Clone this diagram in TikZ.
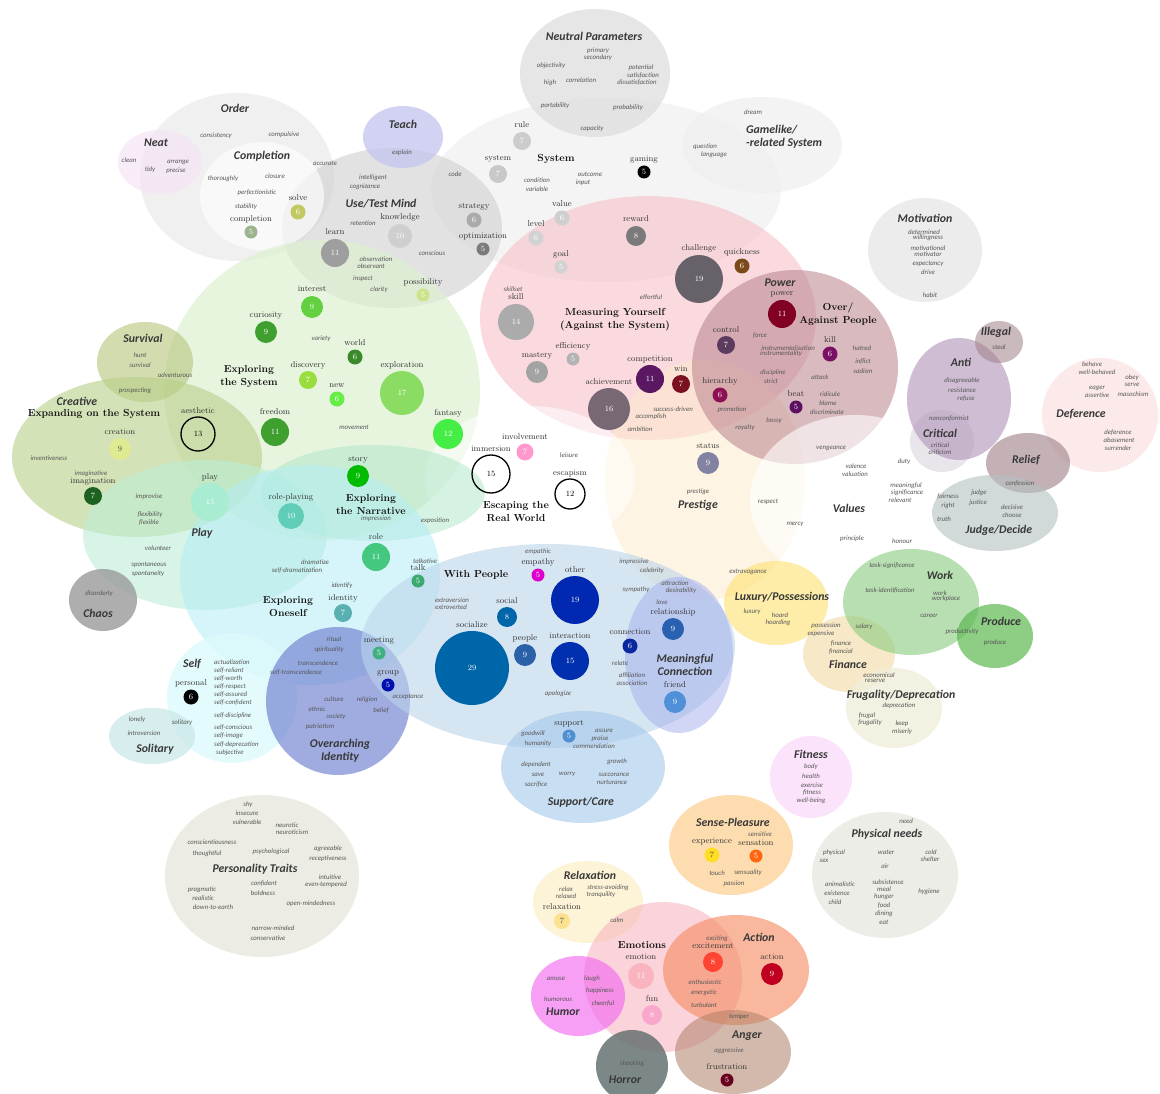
\documentclass[tikz,border=0pt]{standalone}
\usepackage{fontspec}
\setsansfont{Carlito}
\begin{document}
\begin{tikzpicture}[x=1pt,y=-1pt,
 kw/.style={font=\sffamily\itshape\fontsize{6.8}{7}\selectfont, text=black!66, inner sep=0pt},
 cat/.style={font=\sffamily\bfseries\itshape\fontsize{11.8}{13}\selectfont, text=black!78, inner sep=0pt, align=center},
 ser/.style={font=\bfseries\fontsize{10.2}{13}\selectfont, text=black!92, inner sep=0pt, align=center},
 lab/.style={font=\fontsize{8.5}{9}\selectfont, text=black!80, inner sep=0pt},
 num/.style={font=\fontsize{8}{9}\selectfont, text=white, inner sep=0pt}]
\newcommand{\Ell}[6]{\definecolor{tmpe}{HTML}{#5}\fill[tmpe, fill opacity=#6] (#1,#2) ellipse[x radius=#3, y radius=#4];}
\newcommand{\Bub}[6]{\definecolor{tmpb}{HTML}{#4}\fill[tmpb] (#1,#2) circle[radius=#3]; \node[num] at (#1,#2) {#5}; \node[lab, anchor=base] at (#1,{#2-#3-4}) {#6};}
\newcommand{\BubD}[6]{\definecolor{tmpb}{HTML}{#4}\fill[tmpb] (#1,#2) circle[radius=#3]; \node[num, text=black!70] at (#1,#2) {#5}; \node[lab, anchor=base] at (#1,{#2-#3-4}) {#6};}
\newcommand{\BubO}[5]{\draw[line width=1.3pt] (#1,#2) circle[radius=#3]; \node[num, text=black] at (#1,#2) {#4}; \node[lab, anchor=base] at (#1,{#2-#3-4}) {#5};}
\newcommand{\K}[3]{\node[kw] at (#1,#2) {#3};}
\newcommand{\KL}[3]{\node[kw, anchor=west] at (#1,#2) {#3};}
\newcommand{\C}[3]{\node[cat] at (#1,#2) {#3};}
\newcommand{\Sr}[3]{\node[ser] at (#1,#2) {#3};}
\fill[white] (0,0) rectangle (1160,1094);
\useasboundingbox (0,0) rectangle (1160,1094);
% ---------- regions ----------
\Ell{606}{190}{175}{92}{F2F2F2}{0.8}
\Ell{595}{73}{75}{64}{DCDCDC}{0.7}
\Ell{762}{145}{80}{48}{F0F0F0}{0.8}
\Ell{237}{177}{97}{84}{EBEBEB}{0.7}
\Ell{160}{162}{42}{32}{F6E4F6}{0.7}
\Ell{392}{228}{110}{80}{D0D0D0}{0.6}
\Ell{262}{196}{62}{54}{FFFFFF}{0.65}
\Ell{403}{137}{40}{31}{C4C4F0}{0.75}
\Ell{925}{250}{57}{52}{E8E8E8}{0.8}
\Ell{322}{390}{158}{150}{DDF0D0}{0.7}
\Ell{648}{318}{168}{122}{F7BCC6}{0.55}
\Ell{705}{480}{100}{120}{FCEBCB}{0.5}
\Ell{795}{367}{103}{97}{B8828C}{0.55}
\Ell{855}{500}{105}{85}{FFFFFF}{0.6}
\Ell{530}{478}{105}{72}{FFFFFF}{0.55}
\Ell{145}{362}{48}{40}{B5C57A}{0.6}
\Ell{137}{457}{125}{80}{B8CF88}{0.6}
\Ell{205}{535}{122}{75}{BDEED6}{0.6}
\Ell{373}{493}{112}{48}{ACE6C8}{0.5}
\Ell{310}{575}{130}{110}{B4EEF6}{0.55}
\Ell{232}{698}{65}{65}{DDFAFC}{0.8}
\Ell{152}{736}{43}{28}{C8E6E6}{0.7}
\Ell{103}{600}{34}{31}{9A9A9A}{0.8}
\Ell{338}{701}{72}{74}{6E7ED0}{0.65}
\Ell{548}{646}{187}{102}{BCD4EA}{0.6}
\Ell{679}{655}{54}{78}{A4AEEE}{0.5}
\Ell{583}{767}{82}{56}{A4C8EA}{0.6}
\Ell{776}{603}{52}{42}{FDE170}{0.6}
\Ell{849}{654}{46}{38}{F1D89A}{0.55}
\Ell{911}{602}{68}{53}{8ACB80}{0.6}
\Ell{995}{636}{38}{32}{5DB850}{0.7}
\Ell{894}{708}{48}{40}{F0EEDA}{0.8}
\Ell{811}{777}{41}{41}{FADCFA}{0.8}
\Ell{885}{875}{73}{63}{ECECE6}{0.9}
\Ell{262}{876}{97}{81}{EAEAE2}{0.9}
\Ell{731}{845}{62}{50}{FDCF8E}{0.7}
\Ell{588}{902}{55}{41}{FDF1D0}{0.85}
\Ell{663}{977}{79}{75}{F8B0BC}{0.55}
\Ell{736}{970}{73}{55}{F58A5E}{0.6}
\Ell{578}{996}{47}{40}{F060EE}{0.6}
\Ell{632}{1066}{36}{36}{667272}{0.85}
\Ell{733}{1052}{58}{42}{B08068}{0.55}
\Ell{942}{441}{32}{31}{E4E0E6}{0.8}
\Ell{959}{399}{52}{61}{B092B8}{0.6}
\Ell{999}{342}{24}{21}{A08088}{0.55}
\Ell{1100}{415}{58}{57}{FCE4E4}{0.75}
\Ell{1028}{463}{42}{30}{9C7E86}{0.6}
\Ell{995}{513}{63}{38}{B4C0C0}{0.6}
% ---------- bubbles ----------
\Bub{251}{232}{6.5}{9DB38E}{5}{completion}
\Bub{298}{212}{7.5}{C2C862}{6}{solve}
\Bub{335}{253}{14}{9E9E9E}{11}{learn}
\Bub{400}{236}{12}{CFCFCF}{10}{knowledge}
\Bub{522}{141}{9}{CCCCCC}{7}{rule}
\Bub{498}{174}{9}{C8C8C8}{7}{system}
\Bub{474}{220}{7.5}{ABABAB}{6}{strategy}
\Bub{483}{249}{6.5}{7A7A7A}{5}{optimization}
\Bub{562}{218}{7.5}{CFCFCF}{6}{value}
\Bub{536}{238}{7.5}{D2D2D2}{6}{level}
\Bub{561}{267}{6.5}{D2D2D2}{5}{goal}
\Bub{644}{172}{6.5}{000000}{5}{gaming}
\Bub{636}{236}{10}{7A7A7A}{8}{reward}
\Bub{699}{279}{24}{676269}{19}{challenge}
\Bub{742}{266}{7.5}{7B4A1A}{6}{quickness}
\Bub{423}{295}{6.5}{CDE38A}{5}{possibility}
\Bub{312}{307}{11}{62D040}{9}{interest}
\Bub{266}{332}{11}{3F9F2F}{9}{curiosity}
\Bub{355}{357}{7.5}{3A8A2C}{6}{world}
\Bub{308}{380}{9}{9ADD40}{7}{discovery}
\Bub{337}{399}{7.5}{66EE44}{6}{new}
\Bub{402}{393}{22}{8ADD62}{17}{exploration}
\Bub{275}{432}{14}{3F9F2F}{11}{freedom}
\Bub{448}{434}{15}{44EE44}{12}{fantasy}
\Bub{516}{322}{18}{ABABAB}{14}{skill}
\Bub{537}{372}{11}{A3A3A3}{9}{mastery}
\Bub{573}{359}{6.5}{B3B3B3}{5}{efficiency}
\Bub{650}{379}{14}{5A1862}{11}{competition}
\Bub{681}{384}{9}{7A1020}{7}{win}
\Bub{609}{409}{21}{776874}{16}{achievement}
\Bub{720}{395}{7.5}{8C1052}{6}{hierarchy}
\Bub{782}{314}{14}{820024}{11}{power}
\Bub{726}{345}{9}{5C3C5E}{7}{control}
\Bub{830}{354}{7.5}{7A1064}{6}{kill}
\Bub{796}{407}{6.5}{5C1060}{5}{beat}
\Bub{708}{463}{11}{8282A2}{9}{status}
\Bub{525}{452}{8.5}{FF99CC}{7}{involvement}
\BubO{491}{474}{19}{15}{immersion}
\BubO{570}{494}{15}{12}{escapism}
\BubO{198}{434}{17}{13}{aesthetic}
\BubD{120}{449}{11}{E0EA90}{9}{creation}
\Bub{93}{496}{9}{1E6222}{7}{imagination}
\Bub{210}{502}{19}{A8ECD2}{15}{play}
\Bub{291}{516}{13}{60CDB8}{10}{role-playing}
\Bub{358}{476}{11}{00BB00}{9}{story}
\Bub{376}{557}{14}{44C880}{11}{role}
\Bub{343}{613}{9}{5AB0B0}{7}{identity}
\Bub{418}{581}{6.5}{3AAA70}{5}{talk}
\Bub{379}{653}{6.5}{40B080}{5}{meeting}
\Bub{388}{685}{6.5}{0010B0}{5}{group}
\Bub{191}{697}{7.5}{000000}{6}{personal}
\Bub{538}{575}{6.5}{DD00CC}{5}{empathy}
\Bub{575}{600}{24}{0028B0}{19}{other}
\Bub{507}{617}{10}{0066AA}{8}{social}
\Bub{472}{668}{37}{0066AA}{29}{socialize}
\Bub{525}{655}{11}{2A60A8}{9}{people}
\Bub{570}{661}{19}{0030B0}{15}{interaction}
\Bub{630}{646}{7.5}{0828A0}{6}{connection}
\Bub{673}{629}{11}{2A60B0}{9}{relationship}
\Bub{675}{702}{11}{5090D8}{9}{friend}
\Bub{569}{736}{6.5}{5090D0}{5}{support}
\BubD{712}{855}{7.5}{FFDD22}{7}{experience}
\Bub{756}{856}{6.5}{FF6611}{5}{sensation}
\BubD{562}{921}{8}{FCE28E}{7}{relaxation}
\Bub{641}{976}{13}{F9B4C0}{11}{emotion}
\Bub{713}{962}{10}{FF4433}{8}{excitement}
\Bub{772}{974}{11}{C00020}{9}{action}
\Bub{652}{1015}{10}{F9A8CC}{8}{fun}
\Bub{727}{1080}{6.5}{6A0020}{5}{frustration}
% ---------- category titles ----------
\C{594}{36}{Neutral Parameters}
\C{235}{108}{Order}
\C{156}{143}{Neat}
\C{262}{156}{Completion}
\C{403}{124}{Teach}
\C{381}{204}{Use/Test Mind}
\node[cat, align=left, anchor=west] at (746,137) {Gamelike/\\-related System};
\C{925}{218}{Motivation}
\C{143}{338}{Survival}
\C{77}{401}{Creative}
\C{202}{533}{Play}
\C{98}{613}{Chaos}
\C{192}{664}{Self}
\C{155}{749}{Solitary}
\C{340}{751}{Overarching\\Identity}
\C{685}{665}{Meaningful\\Connection}
\C{581}{802}{Support/Care}
\C{782}{597}{Luxury/Possessions}
\C{848}{664}{Finance}
\C{940}{575}{Work}
\C{1001}{621}{Produce}
\C{901}{695}{Frugality/Deprecation}
\C{811}{754}{Fitness}
\C{887}{834}{Physical needs}
\C{255}{869}{Personality Traits}
\C{733}{822}{Sense-Pleasure}
\C{590}{875}{Relaxation}
\C{759}{937}{Action}
\C{563}{1012}{Humor}
\C{625}{1080}{Horror}
\C{747}{1036}{Anger}
\C{698}{505}{Prestige}
\C{849}{508}{Values}
\C{996}{332}{Illegal}
\C{961}{362}{Anti}
\C{940}{433}{Critical}
\C{1081}{414}{Deference}
\C{1026}{460}{Relief}
\C{999}{530}{Judge/Decide}
\C{780}{283}{Power}
% ---------- serif titles ----------
\Sr{556}{159}{System}
\Sr{615}{320}{Measuring Yourself\\(Against the System)}
\Sr{838}{314}{Over/\\Against People}
\Sr{249}{376}{Exploring\\the System}
\Sr{94}{414}{Expanding on the System}
\Sr{516}{512}{Escaping the\\Real World}
\Sr{371}{504}{Exploring\\the Narrative}
\Sr{288}{607}{Exploring\\Oneself}
\Sr{476}{575}{With People}
\Sr{642}{945}{Emotions}
% ---------- words ----------
\K{216}{136}{consistency}\K{284}{135}{compulsive}
\K{129}{160}{clean}\K{150}{170}{tidy}\K{178}{162}{arrange}\K{176}{171}{precise}
\K{325}{163}{accurate}\K{275}{176}{closure}\K{223}{179}{thoroughly}
\K{257}{193}{perfectionistic}\K{246}{207}{stability}
\K{373}{178}{intelligent}\K{365}{187}{cognizance}\K{363}{223}{retention}
\K{376}{259}{observation}\K{371}{266}{observant}\K{363}{279}{inspect}\K{379}{290}{clarity}
\K{402}{153}{explain}\K{455}{174}{code}\K{432}{253}{conscious}
\K{537}{180}{condition}\K{537}{189}{variable}\K{590}{174}{outcome}\K{583}{183}{input}
\K{598}{51}{primary}\K{598}{58}{secondary}\K{551}{66}{objectivity}
\K{641}{68}{potential}\K{643}{76}{satisfaction}\K{637}{83}{dissatisfaction}
\K{550}{83}{high}\K{581}{80}{correlation}\K{555}{106}{portability}\K{628}{108}{probability}\K{592}{129}{capacity}
\K{753}{112}{dream}\K{705}{147}{question}\K{714}{155}{language}
\K{924}{232}{determined}\K{928}{238}{willingness}\K{928}{248}{motivational}\K{928}{254}{motivator}
\K{928}{264}{expectancy}\K{928}{272}{drive}\K{930}{295}{habit}
\K{651}{297}{effortful}\K{513}{289}{skillset}
\K{760}{336}{force}\K{788}{348}{instrumentalisation}\K{781}{354}{instrumentality}
\K{862}{348}{hatred}\K{863}{362}{inflict}\K{863}{371}{sadism}
\K{773}{373}{discipline}\K{771}{381}{strict}\K{820}{377}{attack}
\K{830}{394}{ridicule}\K{828}{403}{blame}\K{827}{412}{discriminate}\K{774}{421}{bossy}
\K{673}{409}{success-driven}\K{651}{417}{accomplish}\K{640}{429}{ambition}
\K{732}{410}{promotion}\K{745}{428}{royalty}\K{831}{448}{vengeance}
\K{569}{455}{leisure}\K{698}{492}{prestige}\K{768}{502}{respect}
\K{856}{466}{valence}\K{855}{474}{valuation}\K{904}{462}{duty}
\K{906}{486}{meaningful}\K{907}{493}{significance}\K{900}{500}{relevant}
\K{795}{524}{mercy}\K{852}{539}{principle}\K{902}{541}{honour}
\K{999}{347}{steal}
\K{1092}{364}{behave}\K{1097}{372}{well-behaved}\K{1132}{378}{obey}\K{1132}{385}{serve}\K{1133}{394}{masochism}
\K{1097}{388}{eager}\K{1097}{395}{assertive}
\K{1118}{433}{deference}\K{1119}{440}{abasement}\K{1118}{448}{surrender}
\K{962}{381}{disagreeable}\K{962}{390}{resistance}\K{966}{399}{refuse}
\K{949}{419}{nonconformist}\K{940}{445}{critical}\K{940}{452}{criticism}
\K{1020}{484}{confession}
\K{948}{497}{fairness}\K{948}{506}{right}\K{944}{519}{truth}
\K{979}{493}{judge}\K{978}{503}{justice}\K{1012}{507}{decisive}\K{1012}{515}{choose}
\K{140}{355}{hunt}\K{140}{365}{survival}\K{175}{375}{adventurous}\K{135}{391}{prospecting}
\K{321}{339}{variety}\K{354}{427}{movement}\K{49}{458}{inventiveness}
\K{91}{474}{imaginative}
\K{149}{497}{improvise}\K{150}{515}{flexibility}\K{149}{523}{flexible}
\K{158}{548}{volunteer}\K{149}{565}{spontaneous}\K{148}{574}{spontaneity}
\K{99}{594}{disorderly}
\K{376}{519}{impression}\K{435}{521}{exposition}
\K{315}{562}{dramatize}\K{297}{571}{self-dramatization}
\K{342}{586}{identify}\K{425}{561}{talkative}\K{538}{552}{empathic}
\K{452}{600}{extraversion}\K{451}{607}{extroverted}
\K{634}{562}{impressive}\K{652}{571}{celebrity}
\K{675}{583}{attraction}\K{681}{591}{desirability}\K{636}{590}{sympathy}\K{662}{602}{love}
\K{748}{572}{extravagance}\K{752}{612}{luxury}\K{780}{615}{hoard}\K{778}{623}{hoarding}
\K{826}{626}{possession}\K{821}{634}{expensive}\K{864}{627}{salary}
\K{841}{644}{finance}\K{841}{652}{financial}
\K{879}{675}{economical}\K{875}{681}{reserve}\K{899}{706}{deprecation}
\K{867}{716}{frugal}\K{870}{723}{frugality}\K{902}{724}{keep}\K{902}{732}{miserly}
\K{892}{566}{task-significance}\K{890}{591}{task-identification}
\K{940}{593}{work}\K{946}{599}{workplace}\K{929}{616}{career}
\K{962}{632}{productivity}\K{995}{643}{produce}
\K{620}{663}{relate}\K{632}{675}{affiliation}\K{632}{683}{association}
\K{558}{694}{apologize}\K{408}{697}{acceptance}
\K{334}{639}{ritual}\K{329}{650}{spirituality}\K{318}{663}{transcendence}\K{296}{673}{self-transcendence}
\K{334}{699}{culture}\K{367}{700}{religion}\K{317}{709}{ethnic}\K{336}{717}{society}\K{381}{711}{belief}\K{320}{727}{patriotism}
\KL{214}{662}{actualization}\KL{214}{670.5}{self-reliant}\KL{214}{678.5}{self-worth}\KL{214}{686.5}{self-respect}
\KL{214}{694.5}{self-assured}\KL{214}{702.5}{self-confident}\KL{214}{716}{self-discipline}
\KL{214}{728}{self-conscious}\KL{214}{736}{self-image}\KL{214}{744.5}{self-deprecation}\KL{216}{753}{subjective}
\K{137}{720}{lonely}\K{144}{733}{introversion}\K{182}{723}{solitary}
\K{533}{734}{goodwill}\K{538}{744}{humanity}\K{604}{731}{assure}\K{600}{739}{praise}\K{594}{746}{commendation}
\K{536}{765}{dependent}\K{538}{775}{save}\K{536}{785}{sacrifice}\K{567}{774}{worry}
\K{617}{762}{growth}\K{614}{775}{succorance}\K{612}{782}{nurturance}
\K{811}{767}{body}\K{811}{776}{health}\K{812}{785}{exercise}\K{812}{793}{fitness}\K{811}{801}{well-being}
\K{906}{821}{need}
\K{834}{853}{physical}\K{824}{861}{sex}\K{886}{852}{water}\K{885}{866}{air}\K{931}{852}{cold}\K{930}{859}{shelter}
\K{840}{884}{animalistic}\K{837}{893}{existence}\K{835}{902}{child}
\K{888}{882}{subsistence}\K{884}{889}{meal}\K{884}{897}{hunger}\K{884}{906}{food}\K{884}{914}{dining}\K{884}{922}{eat}\K{929}{892}{hygiene}
\K{248}{805}{shy}\K{247}{813}{insecure}\K{247}{822}{vulnerable}\K{287}{825}{neurotic}\K{292}{832}{neuroticism}
\K{212}{842}{conscientiousness}\K{207}{854}{thoughtful}\K{271}{852}{psychological}
\K{328}{849}{agreeable}\K{328}{859}{receptiveness}\K{330}{877}{intuitive}\K{326}{885}{even-tempered}
\K{202}{890}{pragmatic}\K{203}{898}{realistic}\K{213}{907}{down-to-earth}
\K{264}{884}{confident}\K{263}{893}{boldness}\K{311}{904}{open-mindedness}
\K{273}{928}{narrow-minded}\K{268}{938}{conservative}
\K{760}{834}{sensitive}\K{717}{873}{touch}\K{748}{873}{sensuality}\K{734}{884}{passion}
\K{566}{889}{relax}\K{566}{896}{relaxed}\K{608}{888}{stress-avoiding}\K{601}{895}{tranquility}\K{617}{920}{calm}
\K{556}{979}{amuse}\K{592}{979}{laugh}\K{600}{991}{happiness}\K{558}{999}{humorous}\K{603}{1004}{cheerful}
\K{717}{939}{exciting}\K{705}{982}{enthusiastic}\K{704}{993}{energetic}\K{704}{1005}{turbulant}
\K{739}{1017}{temper}\K{729}{1051}{aggressive}\K{632}{1064}{shocking}
\end{tikzpicture}
\end{document}
